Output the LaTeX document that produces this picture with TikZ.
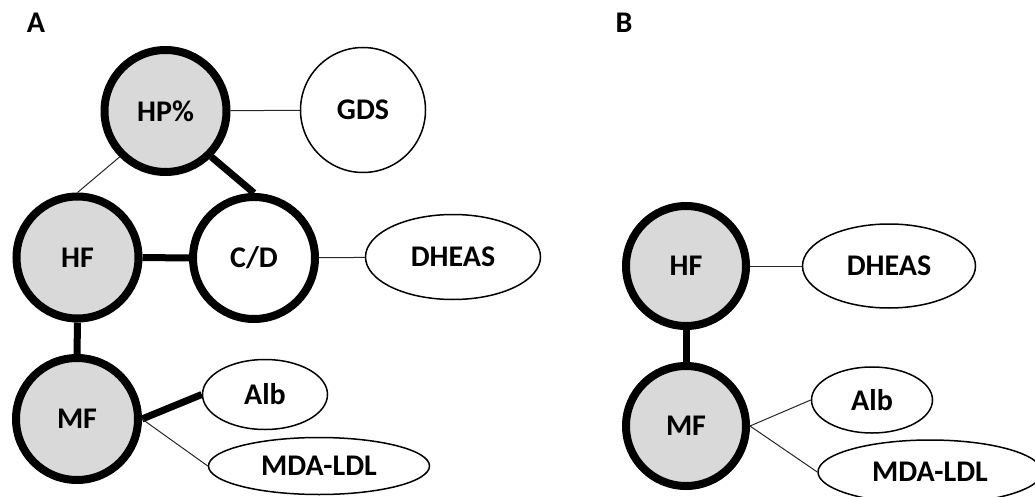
\documentclass[tikz,border=0pt]{standalone}
\usepackage{fontspec}
\setmainfont{Carlito}
\usetikzlibrary{shapes.geometric}
\definecolor{nodegray}{HTML}{D9D9D9}
\begin{document}
\begin{tikzpicture}[x=1pt,y=-1pt,
  every node/.style={font=\fontsize{30}{32}\selectfont\bfseries, inner sep=0pt},
  bigcirc/.style={circle, draw, line width=8pt, minimum size=122pt},
  grayc/.style={bigcirc, fill=nodegray},
  whitec/.style={bigcirc, fill=white},
  thincirc/.style={circle, draw, line width=1.5pt, minimum size=125pt, fill=white},
  ell/.style={ellipse, draw, line width=1.5pt, fill=white},
  thinlink/.style={line width=1pt, black!85},
  thicklink/.style={line width=7pt},
  panel/.style={font=\fontsize{30}{32}\selectfont\bfseries}
]
\useasboundingbox (0,0) rectangle (1035,497);

% Panel A
\node[panel] (labA) at (36,23) {A};
\node[grayc] (hp) at (165.5,111) {HP\%};
\node[thincirc] (gds) at (363,110) {GDS};
\node[grayc] (hfA) at (77.5,257.5) {HF};
\node[whitec] (cd) at (254,258) {C/D};
\node[ell, minimum width=175pt, minimum height=85pt] (dheasA) at (453,257) {DHEAS};
\node[grayc] (mfA) at (77,419) {MF};
\node[ell, minimum width=125pt, minimum height=70pt] (albA) at (265,394.5) {Alb};
\node[ell, minimum width=221pt, minimum height=57pt] (mdaA) at (319,466) {MDA-LDL};

\draw[thinlink] (hp) -- (gds);
\draw[thinlink] (hp.225) -- (hfA.north);
\draw[thicklink] (hp.-45) -- (cd.north);
\draw[thicklink] (hfA) -- (cd);
\draw[thinlink] (cd) -- (dheasA);
\draw[thicklink] (hfA) -- (mfA);
\draw[thicklink] (mfA.east) -- (albA.west);
\draw[thinlink] (mfA.east) -- (mdaA.west);

% Panel B
\node[panel] (labB) at (624,23) {B};
\node[grayc, minimum size=120pt] (hfB) at (686,266) {HF};
\node[ell, minimum width=173pt, minimum height=84pt] (dheasB) at (889,266) {DHEAS};
\node[grayc, minimum size=120pt] (mfB) at (686,426) {MF};
\node[ell, minimum width=121pt, minimum height=66pt] (albB) at (872,400) {Alb};
\node[ell, minimum width=224pt, minimum height=64pt] (mdaB) at (930,472) {MDA-LDL};

\draw[thinlink] (hfB) -- (dheasB);
\draw[thicklink] (hfB) -- (mfB);
\draw[thinlink] (mfB.east) -- (albB.west);
\draw[thinlink] (mfB.east) -- (mdaB.west);
\end{tikzpicture}
\end{document}
